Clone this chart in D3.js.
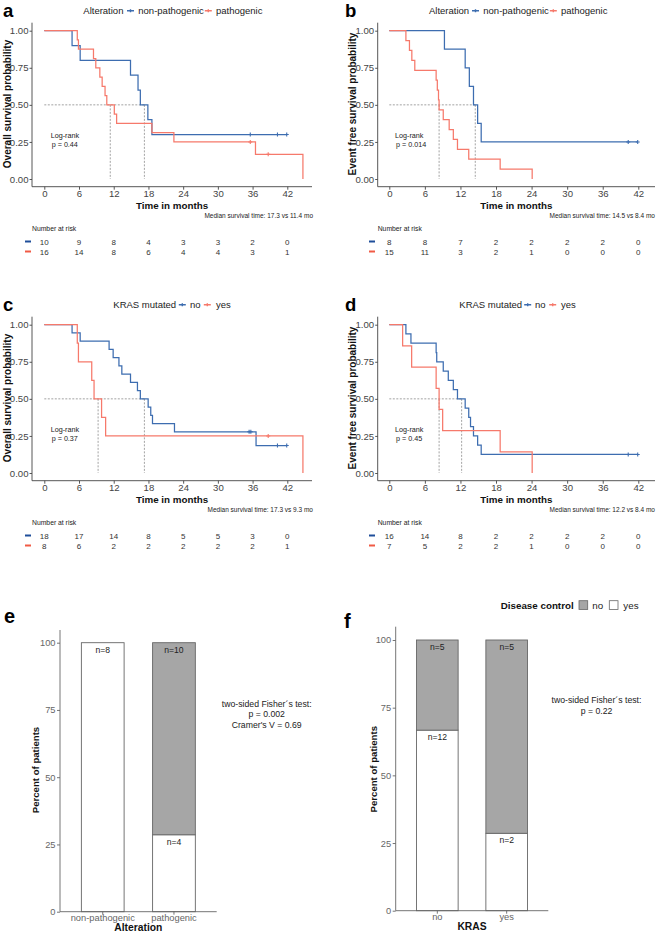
<!DOCTYPE html>
<html><head><meta charset="utf-8">
<script src="https://cdn.jsdelivr.net/npm/d3@7"></script>
<style>body{margin:0;background:#fff} text{font-family:"Liberation Sans",Arial,sans-serif}</style>
</head><body><script>
// ---------- DATA ----------
const timeTicks = [0, 6, 12, 18, 24, 30, 36, 42];
const survTicks = [0, 0.25, 0.5, 0.75, 1];
const percentTicks = [0, 25, 50, 75, 100];

// a: overall survival by alteration
const osAltNonPathTimes = [4.8, 6.2, 14.9, 16.2, 16.6, 17.9, 18.6];
const osAltNonPathSurv  = [0.9, 0.8, 0.7, 0.6, 0.5, 0.4, 0.3];
const osAltNonPathCensor = [35.6, 40.3, 41.9];
const osAltPathTimes = [5.7, 5.9, 8.5, 8.9, 9.6, 10.0, 10.5, 10.8, 12.1, 12.5, 18.6, 22.4, 36.5, 44.7];
const osAltPathSurv  = [0.9375, 0.875, 0.8125, 0.75, 0.6875, 0.625, 0.5625, 0.5, 0.4375, 0.375, 0.3125, 0.25, 0.1667, 0];
const osAltPathCensor = [35.6, 38.7];
const osAltRiskNonPath = [10, 9, 8, 4, 3, 3, 2, 0];
const osAltRiskPath    = [16, 14, 8, 6, 4, 4, 3, 1];
const osAltMedians = [17.3, 11.4];

// b: event free survival by alteration
const efsAltNonPathTimes = [9.3, 12.8, 13.5, 14.2, 14.9, 15.5];
const efsAltNonPathSurv  = [0.875, 0.75, 0.625, 0.5, 0.375, 0.25];
const efsAltNonPathCensor = [40.3, 41.9];
const efsAltPathTimes = [2.8, 3.4, 3.8, 4.3, 7.9, 8.1, 8.3, 8.4, 9.1, 10.1, 10.8, 11.5, 13.4, 18.7, 24.1];
const efsAltPathSurv  = [0.9333, 0.8667, 0.8, 0.7333, 0.6667, 0.6, 0.5333, 0.4667, 0.4, 0.3333, 0.2667, 0.2, 0.1333, 0.0667, 0];
const efsAltPathCensor = [];
const efsAltRiskNonPath = [8, 8, 7, 2, 2, 2, 2, 0];
const efsAltRiskPath    = [15, 11, 3, 2, 1, 0, 0, 0];
const efsAltMedians = [14.5, 8.4];

// c: overall survival by KRAS
const osKrasNoTimes = [4.8, 6.2, 11.2, 11.9, 12.9, 13.4, 14.9, 16.1, 16.6, 17.95, 18.4, 18.7, 22.5, 36.6];
const osKrasNoSurv  = [0.9444, 0.8889, 0.8333, 0.7778, 0.7222, 0.6667, 0.6111, 0.5556, 0.5, 0.4444, 0.3889, 0.3333, 0.2778, 0.1852];
const osKrasNoCensor = [35.4, 35.7, 40.3, 41.9];
const osKrasYesTimes = [5.7, 5.9, 8.2, 8.6, 9.9, 10.6, 44.7];
const osKrasYesSurv  = [0.875, 0.75, 0.625, 0.5, 0.375, 0.25, 0];
const osKrasYesCensor = [38.7];
const osKrasRiskNo  = [18, 17, 14, 8, 5, 5, 3, 0];
const osKrasRiskYes = [8, 6, 2, 2, 2, 2, 2, 1];
const osKrasMedians = [17.3, 9.3];

// d: event free survival by KRAS
const efsKrasNoTimes = [2.8, 3.65, 7.9, 8.0, 9.1, 9.95, 10.8, 11.5, 12.8, 13.4, 13.7, 14.2, 14.9, 15.5];
const efsKrasNoSurv  = [0.9375, 0.875, 0.8125, 0.75, 0.6875, 0.625, 0.5625, 0.5, 0.4375, 0.375, 0.3125, 0.25, 0.1875, 0.125];
const efsKrasNoCensor = [40.3, 41.9];
const efsKrasYesTimes = [2.25, 3.77, 7.9, 8.4, 9.0, 18.7, 24.1];
const efsKrasYesSurv  = [0.8571, 0.7143, 0.5714, 0.4286, 0.2857, 0.1429, 0];
const efsKrasYesCensor = [];
const efsKrasRiskNo  = [16, 14, 8, 2, 2, 2, 2, 0];
const efsKrasRiskYes = [7, 5, 2, 2, 1, 0, 0, 0];
const efsKrasMedians = [12.2, 8.4];

const logRankP = ["0.44", "0.014", "0.37", "0.45"];

// e / f: disease control (percent of patients and counts as labelled)
const alterationCats = ["non-pathogenic", "pathogenic"];
const alterationPctYes = [100, 28.6];
const alterationCountNo  = [0, 10];
const alterationCountYes = [8, 4];
const krasCats = ["no", "yes"];
const krasPctYes = [66.7, 28.6];
const krasCountNo  = [5, 5];
const krasCountYes = [12, 2];
const fisherE = ["two-sided Fisher´s test:", "p = 0.002", "Cramer's V  = 0.69"];
const fisherF = ["two-sided Fisher´s test:", "p = 0.22"];

// ---------- DRAW ----------
const BLUE = "#3D6DB0", RED = "#F6796B", AXIS = "#444", GRAY = "#A6A6A6";
const svg = d3.select("body").append("svg").attr("width", 660).attr("height", 935);

function stepAt(times, surv, t) {
  let s = 1;
  for (let i = 0; i < times.length; i++) if (times[i] <= t) s = surv[i];
  return s;
}
function txt(g, x, y, s, o = {}) {
  return g.append("text").attr("x", x).attr("y", y).text(s)
    .attr("font-size", o.size || 9).attr("fill", o.fill || "#222")
    .attr("font-weight", o.bold ? "bold" : null)
    .attr("text-anchor", o.anchor || "start");
}

const cols = [
  {axisX: 32, x0: 44.3, x42: 287.3, axisEnd: 312, yTitleX: 11, logX: 50.7, dash: [25, 31], letterX: 3, medRight: 313},
  {axisX: 377.7, x0: 389.3, x42: 638.3, axisEnd: 655, yTitleX: 356, logX: 395, dash: [369, 375], letterX: 345, medRight: 655}
];

const kmPanels = [
  {letter: "a", col: 0, oy: 0, yTitle: "Overall survival probability", legTitle: "Alteration",
   groups: ["non-pathogenic", "pathogenic"],
   times: [osAltNonPathTimes, osAltPathTimes], surv: [osAltNonPathSurv, osAltPathSurv],
   censor: [osAltNonPathCensor, osAltPathCensor], risk: [osAltRiskNonPath, osAltRiskPath],
   medians: osAltMedians, p: logRankP[0], leg: {title: 83.3, sym: [130.5, 208.3], text: [138.3, 216]}},
  {letter: "b", col: 1, oy: 0, yTitle: "Event free survival probability", legTitle: "Alteration",
   groups: ["non-pathogenic", "pathogenic"],
   times: [efsAltNonPathTimes, efsAltPathTimes], surv: [efsAltNonPathSurv, efsAltPathSurv],
   censor: [efsAltNonPathCensor, efsAltPathCensor], risk: [efsAltRiskNonPath, efsAltRiskPath],
   medians: efsAltMedians, p: logRankP[1], leg: {title: 429, sym: [475.5, 553.3], text: [483.3, 561]}},
  {letter: "c", col: 0, oy: 294, yTitle: "Overall survival probability", legTitle: "KRAS mutated",
   groups: ["no", "yes"],
   times: [osKrasNoTimes, osKrasYesTimes], surv: [osKrasNoSurv, osKrasYesSurv],
   censor: [osKrasNoCensor, osKrasYesCensor], risk: [osKrasRiskNo, osKrasRiskYes],
   medians: osKrasMedians, p: logRankP[2], leg: {title: 113.3, sym: [182.3, 207.3], text: [190, 216]}},
  {letter: "d", col: 1, oy: 294, yTitle: "Event free survival probability", legTitle: "KRAS mutated",
   groups: ["no", "yes"],
   times: [efsKrasNoTimes, efsKrasYesTimes], surv: [efsKrasNoSurv, efsKrasYesSurv],
   censor: [efsKrasNoCensor, efsKrasYesCensor], risk: [efsKrasRiskNo, efsKrasRiskYes],
   medians: efsKrasMedians, p: logRankP[3], leg: {title: 459.3, sym: [527.7, 552.7], text: [535, 561]}}
];

function kmPanel(p) {
  const c = cols[p.col], oy = p.oy;
  const g = svg.append("g");
  const x = d3.scaleLinear().domain([0, 42]).range([c.x0, c.x42]);
  const y = d3.scaleLinear().domain([0, 1]).range([179 + oy, 30.7 + oy]);
  const colors = [BLUE, RED];

  // axes
  const gx = g.append("g").attr("transform", `translate(0,${186.7 + oy})`)
    .call(d3.axisBottom(x).tickValues(timeTicks).tickSize(3).tickSizeOuter(0).tickPadding(0.8));
  gx.select(".domain").attr("d", `M${c.axisX},0H${c.axisEnd}`);
  const gy = g.append("g").attr("transform", `translate(${c.axisX},0)`)
    .call(d3.axisLeft(y).tickValues(survTicks).tickFormat(d3.format(".2f")).tickSize(2.5).tickSizeOuter(0).tickPadding(1));
  gy.select(".domain").attr("d", `M0,${22.7 + oy}V${186.7 + oy}`);
  [gx, gy].forEach(a => {
    a.selectAll("path,line").attr("stroke", AXIS).attr("stroke-width", 0.9);
    a.selectAll("text").attr("font-size", 9.6).attr("fill", "#444")
      .attr("font-family", '"Liberation Sans",Arial,sans-serif');
  });

  // median lines
  const mMax = d3.max(p.medians);
  g.append("line").attr("x1", x(0)).attr("x2", x(mMax)).attr("y1", y(0.5)).attr("y2", y(0.5))
    .attr("stroke", "#8c8c8c").attr("stroke-width", 0.8).attr("stroke-dasharray", "2,1.5");
  p.medians.forEach(m => g.append("line").attr("x1", x(m)).attr("x2", x(m)).attr("y1", y(0.5)).attr("y2", y(0))
    .attr("stroke", "#8c8c8c").attr("stroke-width", 0.8).attr("stroke-dasharray", "2,1.5"));

  // curves
  const line = d3.line().x(d => x(d[0])).y(d => y(d[1])).curve(d3.curveStepAfter);
  [0, 1].forEach(i => {
    const T = p.times[i], S = p.surv[i], C = p.censor[i];
    const pts = [[0, 1]].concat(T.map((t, k) => [t, S[k]]));
    const end = Math.max(T[T.length - 1], C.length ? d3.max(C) : 0);
    pts.push([end, S[S.length - 1]]);
    g.append("path").attr("d", line(pts)).attr("fill", "none").attr("stroke", colors[i]).attr("stroke-width", 1.25);
    C.forEach(t => {
      const cx = x(t), cy = y(stepAt(T, S, t));
      g.append("path").attr("d", `M${cx - 2},${cy}h4M${cx},${cy - 2}v4`).attr("stroke", colors[i]).attr("stroke-width", 1.1);
    });
  });

  // log-rank
  txt(g, c.logX, 138.3 + oy, "Log-rank", {size: 7.2});
  txt(g, c.logX + 1, 146.8 + oy, "p = " + p.p, {size: 7.2});

  // titles
  txt(g, (c.axisX + c.axisEnd) / 2, 208.6 + oy, "Time in months", {size: 9.8, bold: true, anchor: "middle", fill: "#111"});
  txt(g, 0, 0, p.yTitle, {size: 10, bold: true, anchor: "middle", fill: "#111"})
    .attr("transform", `translate(${c.yTitleX},${104 + oy}) rotate(-90)`);
  txt(g, c.medRight, 218 + oy, `Median survival time: ${p.medians[0]} vs ${p.medians[1]} mo`, {size: 6.5, anchor: "end"});
  txt(g, c.letterX, 17 + oy, p.letter, {size: 18.5, bold: true, fill: "#000"});

  // legend
  txt(g, p.leg.title, 14.2 + oy, p.legTitle, {size: 9.5});
  [0, 1].forEach(i => {
    const sx = p.leg.sym[i], sy = 10.7 + oy;
    g.append("path").attr("d", `M${sx - 3.5},${sy}h7M${sx},${sy - 1.5}v3`).attr("stroke", colors[i]).attr("stroke-width", 1.4);
    txt(g, p.leg.text[i], 14.2 + oy, p.groups[i], {size: 9.5});
  });

  // risk table
  txt(g, c.axisX, 231 + oy, "Number at risk", {size: 6.8});
  [0, 1].forEach(i => {
    const by = 244.5 + oy + i * 10;
    g.append("line").attr("x1", c.dash[0]).attr("x2", c.dash[1]).attr("y1", by - 3).attr("y2", by - 3)
      .attr("stroke", i === 0 ? "#1F4E9A" : "#F05A45").attr("stroke-width", 2);
    p.risk[i].forEach((n, k) => txt(g, x(timeTicks[k]), by, n, {size: 8, anchor: "middle", fill: "#333"}));
  });
}
kmPanels.forEach(kmPanel);

// ---------- bar panels ----------
const barPanels = [
  {letter: "e", letterX: 4, letterY: 623, cats: alterationCats, pctYes: alterationPctYes,
   no: alterationCountNo, yes: alterationCountYes,
   axisX: 60, axisEnd: 216.7, y0: 911.7, y100: 642.7, top: 630, xTitle: "Alteration",
   statX: 266.7, statY: 706.5, stat: fisherE, yTitleX: 39, yTitleY: 770},
  {letter: "f", letterX: 344, letterY: 628, cats: krasCats, pctYes: krasPctYes,
   no: krasCountNo, yes: krasCountYes,
   axisX: 395.7, axisEnd: 548.3, y0: 910.7, y100: 640, top: 626.7, xTitle: "KRAS",
   statX: 596.5, statY: 703, stat: fisherF, yTitleX: 377, yTitleY: 769.2}
];

function barPanel(p) {
  const g = svg.append("g");
  const x = d3.scaleBand().domain(p.cats).range([p.axisX, p.axisEnd]).paddingInner(0.4).paddingOuter(0.3);
  const y = d3.scaleLinear().domain([0, 100]).range([p.y0, p.y100]);
  const rows = p.cats.map((c, i) => ({cat: c, yes: p.pctYes[i], no: 100 - p.pctYes[i], nYes: p.yes[i], nNo: p.no[i]}));
  const series = d3.stack().keys(["yes", "no"])(rows);
  series.forEach(s => {
    s.forEach(d => {
      if (d[1] - d[0] <= 0) return;
      g.append("rect").attr("x", x(d.data.cat)).attr("width", x.bandwidth())
        .attr("y", y(d[1])).attr("height", y(d[0]) - y(d[1]))
        .attr("fill", s.key === "no" ? GRAY : "#fff").attr("stroke", "#666").attr("stroke-width", 0.9);
      const n = s.key === "no" ? d.data.nNo : d.data.nYes;
      txt(g, x(d.data.cat) + x.bandwidth() / 2, y(d[1]) + 10.2, "n=" + n, {size: 8.6, anchor: "middle", fill: "#222"});
    });
  });
  const gx = g.append("g").attr("transform", `translate(0,${p.y0})`)
    .call(d3.axisBottom(x).tickSize(3).tickSizeOuter(0).tickPadding(0));
  gx.select(".domain").attr("d", `M${p.axisX},0H${p.axisEnd}`);
  const gy = g.append("g").attr("transform", `translate(${p.axisX},0)`)
    .call(d3.axisLeft(y).tickValues(percentTicks).tickSize(3).tickSizeOuter(0).tickPadding(1.5));
  gy.select(".domain").attr("d", `M0,${p.top}V${p.y0}`);
  [gx, gy].forEach(a => {
    a.selectAll("path,line").attr("stroke", "#666").attr("stroke-width", 0.9);
    a.selectAll("text").attr("font-size", 9.3).attr("fill", "#666")
      .attr("font-family", '"Liberation Sans",Arial,sans-serif');
  });
  txt(g, (p.axisX + p.axisEnd) / 2, p.y0 + 19.5, p.xTitle, {size: 10.3, bold: true, anchor: "middle", fill: "#111"});
  txt(g, 0, 0, "Percent of patients", {size: 9.6, bold: true, anchor: "middle", fill: "#111"})
    .attr("transform", `translate(${p.yTitleX},${p.yTitleY}) rotate(-90)`);
  p.stat.forEach((s, i) => txt(g, p.statX, p.statY + i * 10.6, s, {size: 8.7, anchor: "middle", fill: "#222"}));
  txt(g, p.letterX, p.letterY, p.letter, {size: 20, bold: true, fill: "#000"});
}
barPanels.forEach(barPanel);

// legend for disease control
const lg = svg.append("g");
txt(lg, 500.7, 608.6, "Disease control", {size: 9.8, bold: true, fill: "#111"});
lg.append("rect").attr("x", 579).attr("y", 600.7).attr("width", 8.7).attr("height", 8.7).attr("fill", GRAY).attr("stroke", "#666").attr("stroke-width", 0.8);
txt(lg, 592.3, 608.6, "no", {size: 9.8, fill: "#222"});
lg.append("rect").attr("x", 609.3).attr("y", 600.7).attr("width", 8.7).attr("height", 8.7).attr("fill", "#fff").attr("stroke", "#666").attr("stroke-width", 0.8);
txt(lg, 623.3, 608.6, "yes", {size: 9.8, fill: "#222"});
</script></body></html>
